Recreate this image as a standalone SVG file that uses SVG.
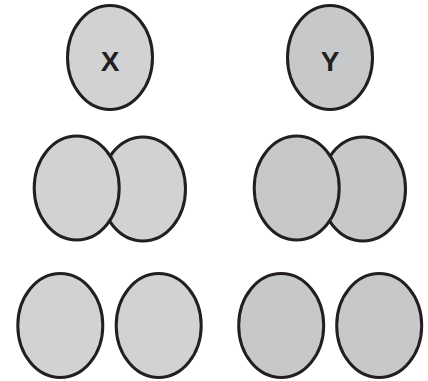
<svg xmlns="http://www.w3.org/2000/svg" width="428" height="381" viewBox="0 0 428 381">
<style>
.e{stroke:#231f20;stroke-width:3}
.l{fill:#d1d2d4}
.r{fill:#c7c8ca}
.t{font-family:"Liberation Sans",Arial,sans-serif;font-weight:bold;font-size:28px;fill:#231f20;text-anchor:middle}
</style>
<rect width="428" height="381" fill="#fff"/>
<g id="nodeX"><ellipse class="e l" cx="110" cy="57.5" rx="42.5" ry="52"/><text class="t" x="110" y="70.5">X</text></g>
<g id="nodeY"><ellipse class="e r" cx="330" cy="57.5" rx="42.5" ry="52"/><text class="t" x="330" y="70.5">Y</text></g>
<g id="pairX"><ellipse class="e l" cx="143" cy="189" rx="42.5" ry="52"/><ellipse class="e l" cx="76.7" cy="188" rx="42.5" ry="52"/></g>
<g id="pairY"><ellipse class="e r" cx="363" cy="189" rx="42.5" ry="52"/><ellipse class="e r" cx="296.7" cy="188" rx="42.5" ry="52"/></g>
<g id="x1"><ellipse class="e l" cx="60.3" cy="325.5" rx="42.5" ry="52"/></g>
<g id="x2"><ellipse class="e l" cx="158.7" cy="325.5" rx="42.5" ry="52"/></g>
<g id="y1"><ellipse class="e r" cx="281.2" cy="325.5" rx="42.5" ry="52"/></g>
<g id="y2"><ellipse class="e r" cx="379.2" cy="325.5" rx="42.5" ry="52"/></g>
<g id="connectors"/>
</svg>
